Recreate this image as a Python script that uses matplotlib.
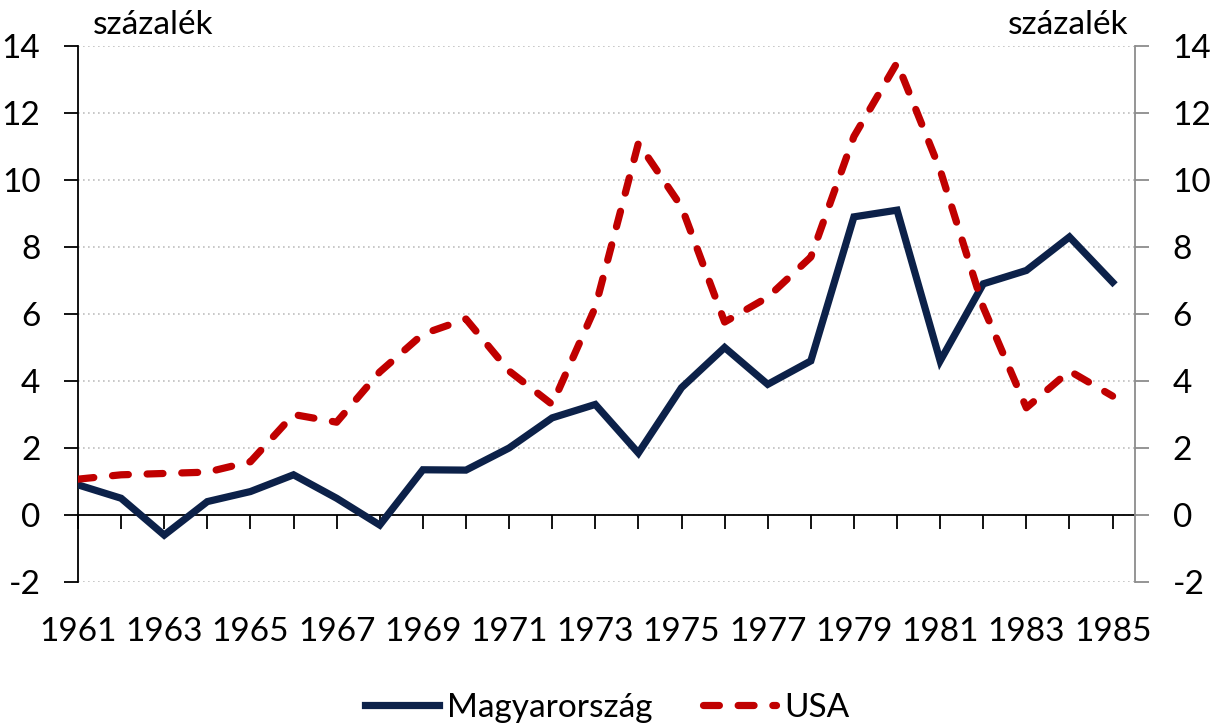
import matplotlib
matplotlib.use('Agg')
import matplotlib.pyplot as plt

years = list(range(1961, 1986))
hungary = [0.9, 0.5, -0.6, 0.4, 0.7, 1.2, 0.5, -0.3, 1.35, 1.34, 2.0, 2.9, 3.3, 1.85, 3.8,
           5.0, 3.9, 4.6, 8.9, 9.1, 4.6, 6.9, 7.3, 8.3, 6.95]
usa = [1.07, 1.2, 1.24, 1.28, 1.59, 3.0, 2.77, 4.27, 5.4, 5.85, 4.3, 3.3, 6.2, 11.1, 9.2,
       5.76, 6.5, 7.7, 11.3, 13.5, 10.3, 6.2, 3.2, 4.3, 3.55]
label_years = list(range(1961, 1986, 2))
yticks = list(range(-2, 15, 2))

plt.rcParams['font.family'] = ['Lato', 'DejaVu Sans']
plt.rcParams['axes.unicode_minus'] = False
fs = 24

fig = plt.figure(figsize=(12.15, 7.27), dpi=100)
ax = fig.add_axes([78 / 1215, 1 - 582 / 727, (1135 - 78) / 1215, (582 - 46) / 727])

navy = '#0C2149'
red = '#C00000'

# Plot
ax.plot(years, hungary, color=navy, lw=5.2, solid_joinstyle='miter', label='Magyarország', zorder=3)
ax.plot(years, usa, color=red, lw=5.2, dashes=(2.2, 2.6), dash_capstyle='round',
        label='USA', zorder=3)

ax.set_xlim(1961, 1985.52)
ax.set_ylim(-2, 14)
ax.set_yticks(yticks)
ax.grid(axis='y', color='#BFBFBF', linestyle=(0, (1, 2)), lw=1.2)

# x axis line sits at 0, labels below the plot
ax.spines['bottom'].set_position(('data', 0))
ax.spines['bottom'].set_linewidth(1.3)
ax.spines['top'].set_visible(False)
ax.spines['right'].set_visible(False)
ax.spines['left'].set_linewidth(1.3)
ax.set_xticks(years)
ax.tick_params(axis='x', direction='out', length=10, width=1.3, labelbottom=False)
ax.tick_params(axis='y', direction='out', length=10, width=1.3, labelsize=fs, pad=17)

sec = ax.secondary_xaxis('bottom')
sec.set_xticks(label_years)
sec.set_xticklabels([str(y) for y in label_years])
sec.tick_params(length=0, labelsize=fs, pad=25)
sec.spines['bottom'].set_visible(False)

# right axis
ax2 = ax.twinx()
ax2.set_ylim(-2, 14)
ax2.set_yticks(yticks)
for s in ['top', 'left', 'bottom']:
    ax2.spines[s].set_visible(False)
ax2.spines['right'].set_color('#8C8C8C')
ax2.spines['right'].set_linewidth(1.3)
ax2.tick_params(axis='y', direction='out', length=10, width=1.3, color='#8C8C8C',
                labelsize=fs, pad=17)

fig.text(93 / 1215, 1 - 25 / 727, 'százalék', fontsize=fs, ha='left', va='center')
fig.text(1128 / 1215, 1 - 25 / 727, 'százalék', fontsize=fs, ha='right', va='center')

fig.legend(handles=ax.get_lines(), loc='center', bbox_to_anchor=(0.5, 1 - 708 / 727), ncol=2,
           frameon=False, fontsize=fs, handlelength=2.2, columnspacing=1.5, handletextpad=0.25)

fig.savefig('out.png', dpi=100)
